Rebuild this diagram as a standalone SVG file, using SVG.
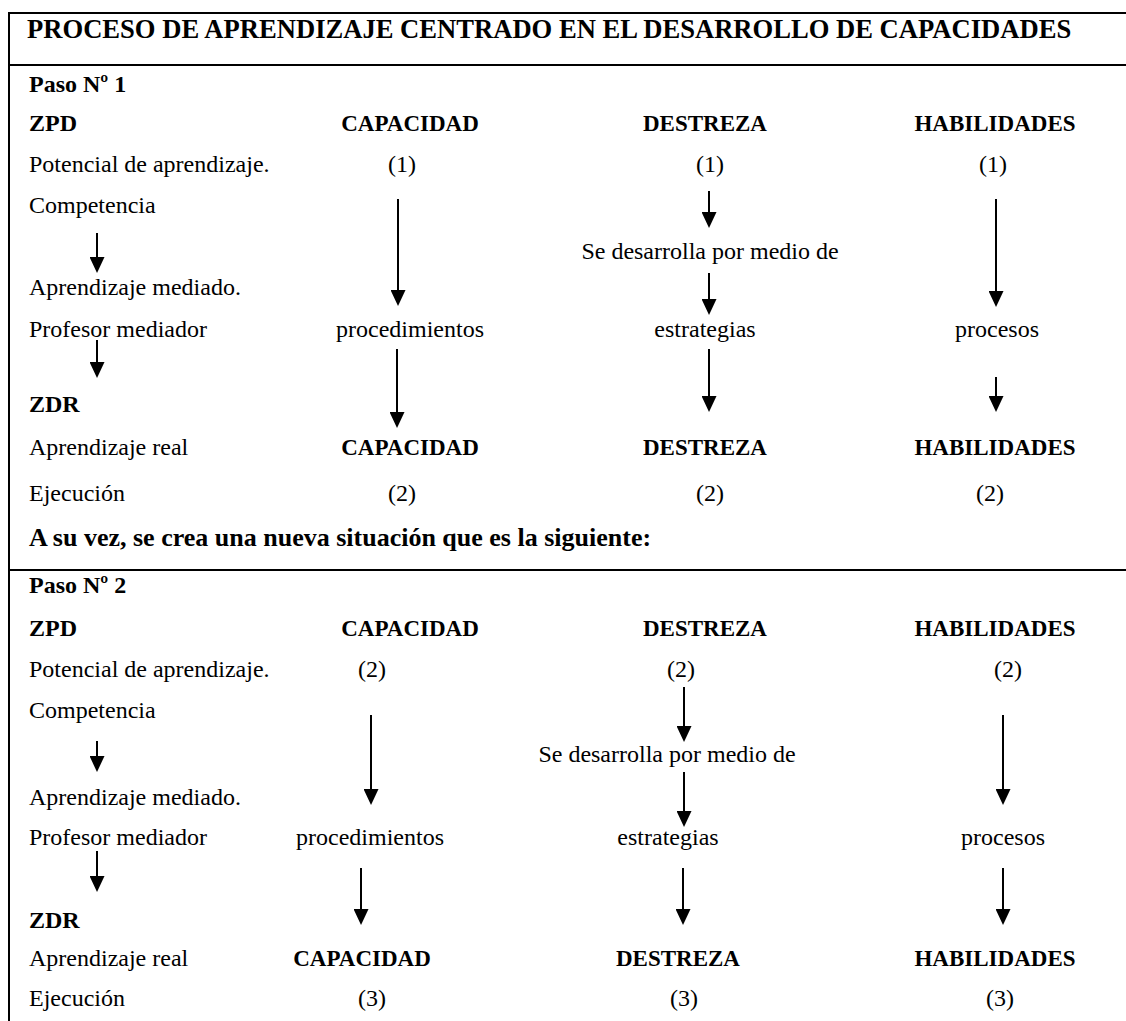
<svg xmlns="http://www.w3.org/2000/svg" width="1126" height="1021" viewBox="0 0 1126 1021">
<style>
text{font-family:'Liberation Serif','Times New Roman',serif;font-size:24px;fill:#000}
.b{font-weight:bold}
.l{font-weight:bold;font-size:23px;text-anchor:middle}
.c{text-anchor:middle}
.t{font-size:26.6px;font-weight:bold}
.frame{stroke:#000;stroke-width:2;fill:none}
.ar{stroke:#000;stroke-width:2;fill:none;marker-end:url(#ah)}
</style>
<defs>
<marker id="ah" viewBox="0 0 16 15" refX="8" refY="7.5" markerWidth="16" markerHeight="15" markerUnits="userSpaceOnUse" orient="auto">
<path d="M0,0 L16,7.5 L0,15 z" fill="#000"/>
</marker>
</defs>
<g id="frame">
<path class="frame" d="M9,1021 V13 H1126 M9,65 H1126 M9,570 H1126"/>
</g>
<g id="title"><text class="t" x="27" y="38">PROCESO DE APRENDIZAJE CENTRADO EN EL DESARROLLO DE CAPACIDADES</text></g>
<g id="paso1">
<text class="b" x="29" y="92">Paso Nº 1</text>
<g id="p1-zpd"><text class="b" x="29" y="131">ZPD</text></g>
<g id="p1-cap"><text class="l" x="410" y="131">CAPACIDAD</text></g>
<g id="p1-des"><text class="l" x="705" y="131">DESTREZA</text></g>
<g id="p1-hab"><text class="l" x="995" y="131">HABILIDADES</text></g>
<g id="p1-pot"><text x="29" y="172">Potencial de aprendizaje.</text></g>
<g id="p1-n1"><text class="c" x="402" y="172">(1)</text><text class="c" x="710" y="172">(1)</text><text class="c" x="993" y="172">(1)</text></g>
<g id="p1-comp"><text x="29" y="213">Competencia</text></g>
<g id="p1-se"><text class="c" x="710" y="259">Se desarrolla por medio de</text></g>
<g id="p1-am"><text x="29" y="295">Aprendizaje mediado.</text></g>
<g id="p1-pm"><text x="29" y="337">Profesor mediador</text></g>
<g id="p1-proc"><text class="c" x="410" y="337">procedimientos</text></g>
<g id="p1-est"><text class="c" x="705" y="337">estrategias</text></g>
<g id="p1-pros"><text class="c" x="997" y="337">procesos</text></g>
<g id="p1-zdr"><text class="b" x="29" y="412">ZDR</text></g>
<g id="p1-ar"><text x="29" y="455">Aprendizaje real</text>
<text class="l" x="410" y="455">CAPACIDAD</text><text class="l" x="705" y="455">DESTREZA</text><text class="l" x="995" y="455">HABILIDADES</text></g>
<g id="p1-ej"><text x="29" y="501">Ejecución</text>
<text class="c" x="402" y="501">(2)</text><text class="c" x="710" y="501">(2)</text><text class="c" x="990" y="501">(2)</text></g>
<g id="asuvez"><text class="b" x="29" y="546" style="font-size:26px">A su vez, se crea una nueva situación que es la siguiente:</text></g>
</g>
<g id="paso2">
<text class="b" x="29" y="593">Paso Nº 2</text>
<g id="p2-zpd"><text class="b" x="29" y="636">ZPD</text></g>
<g id="p2-cap"><text class="l" x="410" y="636">CAPACIDAD</text></g>
<g id="p2-des"><text class="l" x="705" y="636">DESTREZA</text></g>
<g id="p2-hab"><text class="l" x="995" y="636">HABILIDADES</text></g>
<g id="p2-pot"><text x="29" y="677">Potencial de aprendizaje.</text></g>
<g id="p2-n2"><text class="c" x="372" y="677">(2)</text><text class="c" x="681" y="677">(2)</text><text class="c" x="1008" y="677">(2)</text></g>
<g id="p2-comp"><text x="29" y="718">Competencia</text></g>
<g id="p2-se"><text class="c" x="667" y="762">Se desarrolla por medio de</text></g>
<g id="p2-am"><text x="29" y="805">Aprendizaje mediado.</text></g>
<g id="p2-pm"><text x="29" y="845">Profesor mediador</text></g>
<g id="p2-proc"><text class="c" x="370" y="845">procedimientos</text></g>
<g id="p2-est"><text class="c" x="668" y="845">estrategias</text></g>
<g id="p2-pros"><text class="c" x="1003" y="845">procesos</text></g>
<g id="p2-zdr"><text class="b" x="29" y="928">ZDR</text></g>
<g id="p2-ar"><text x="29" y="966">Aprendizaje real</text>
<text class="l" x="362" y="966">CAPACIDAD</text><text class="l" x="678" y="966">DESTREZA</text><text class="l" x="995" y="966">HABILIDADES</text></g>
<g id="p2-ej"><text x="29" y="1006">Ejecución</text>
<text class="c" x="372" y="1006">(3)</text><text class="c" x="684" y="1006">(3)</text><text class="c" x="1000" y="1006">(3)</text></g>
</g>
<g id="connectors">
<path class="ar" d="M97,233 V265"/>
<path class="ar" d="M97,340 V370"/>
<path class="ar" d="M398,199 V298"/>
<path class="ar" d="M397,349 V420"/>
<path class="ar" d="M709,191 V220"/>
<path class="ar" d="M709,273 V307"/>
<path class="ar" d="M709,349 V404"/>
<path class="ar" d="M996,199 V299"/>
<path class="ar" d="M996,377 V404"/>
<path class="ar" d="M97,741 V764"/>
<path class="ar" d="M97,851 V884"/>
<path class="ar" d="M371,715 V797"/>
<path class="ar" d="M361,868 V917"/>
<path class="ar" d="M684,687 V734"/>
<path class="ar" d="M684,772 V819"/>
<path class="ar" d="M683,868 V917"/>
<path class="ar" d="M1003,715 V797"/>
<path class="ar" d="M1003,868 V917"/>
</g>
</svg>
